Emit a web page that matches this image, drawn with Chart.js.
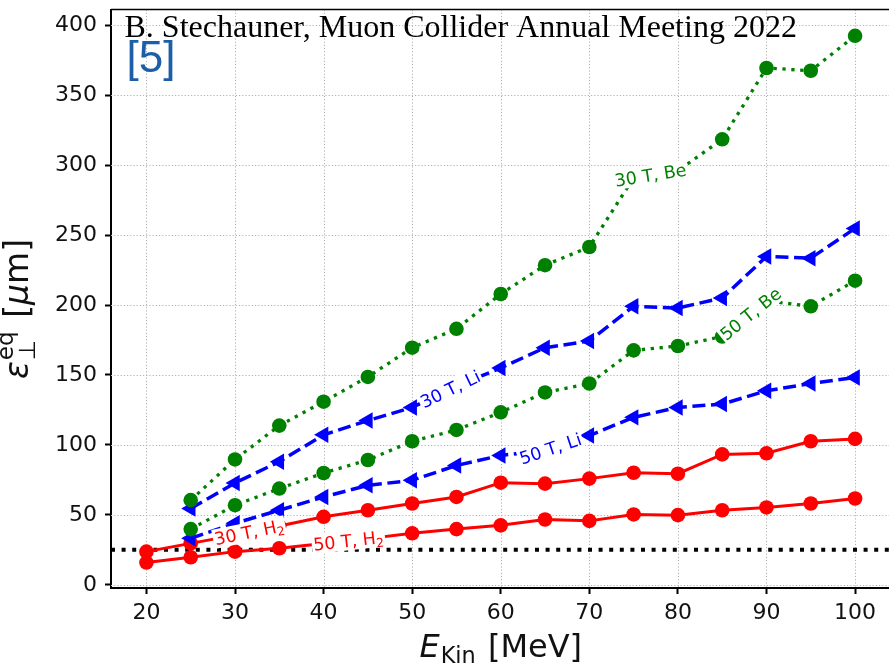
<!DOCTYPE html>
<html>
<head>
<meta charset="utf-8">
<title>Equilibrium emittance vs kinetic energy</title>
<script src="https://cdn.jsdelivr.net/npm/chart.js@4.4.1/dist/chart.umd.min.js"></script>
<style>
  html, body { margin: 0; padding: 0; background: #fff; overflow: hidden; }
  #wrap { width: 900px; height: 666px; }
</style>
</head>
<body>
<div id="wrap"><canvas id="c" width="900" height="666"></canvas></div>
<script>
// Kinetic energy grid [MeV]
const energyH2 = [20, 25, 30, 35, 40, 45, 50, 55, 60, 65, 70, 75, 80, 85, 90, 95, 100];
const energyLiBe = [25, 30, 35, 40, 45, 50, 55, 60, 65, 70, 75, 80, 85, 90, 95, 100];

// Equilibrium transverse emittance [µm]
const be30T = [60.5, 89.6, 113.8, 130.9, 148.6, 169.5, 183.0, 207.9, 228.5, 241.5, 291.0, 296.0, 318.5, 369.5, 367.5, 392.5];
const be50T = [39.8, 56.9, 68.8, 79.9, 89.2, 102.6, 110.7, 123.3, 137.5, 143.9, 167.6, 170.7, 177.5, 203.0, 199.1, 217.4];
const li30T = [54.5, 72.8, 88.0, 107.2, 117.4, 126.8, 142.0, 155.0, 169.5, 174.3, 199.1, 197.9, 205.0, 234.7, 233.5, 254.8];
const li50T = [33.2, 44.0, 53.3, 62.8, 71.1, 74.7, 85.3, 92.5, 96.0, 106.7, 119.7, 126.8, 129.2, 138.7, 143.9, 148.2];
const h2_30T = [23.7, 29.6, 35.5, 42.0, 48.6, 53.3, 58.1, 62.8, 73.0, 72.3, 75.9, 80.1, 79.4, 93.2, 94.0, 102.6, 104.3];
const h2_50T = [15.9, 19.7, 23.7, 26.1, 29.5, 33.0, 36.8, 39.8, 42.5, 46.7, 45.7, 50.3, 49.8, 53.3, 55.3, 58.1, 61.7];

// Reference emittance level [µm]
const referenceLevel = 25;

// Axis ranges and ticks
const xRange = [16, 104];
const yRange = [-2.3, 411.3];
const xTicks = [20, 30, 40, 50, 60, 70, 80, 90, 100];
const yTicks = [0, 50, 100, 150, 200, 250, 300, 350, 400];

// Inline curve labels: dataset index, energy at label centre, text runs
const curveLabels = [
  { ds: 0, at: 76.9, runs: [{ t: '30 T, Be' }] },
  { ds: 1, at: 88.2, runs: [{ t: '50 T, Be' }] },
  { ds: 2, at: 54.3, runs: [{ t: '30 T, Li' }] },
  { ds: 3, at: 65.6, runs: [{ t: '50 T, Li' }] },
  { ds: 4, at: 31.6, runs: [{ t: '30 T, H' }, { t: '2', sub: true }] },
  { ds: 5, at: 42.8, runs: [{ t: '50 T, H' }, { t: '2', sub: true }] }
];

const pairs = (xs, ys) => xs.map((x, i) => ({ x, y: ys[i] }));

const FAMILY = '"DejaVu Sans", sans-serif';

const greenStyle = {
  borderColor: 'green', backgroundColor: 'green', borderWidth: 3.3, borderDash: [3.3, 5.6],
  pointStyle: 'circle', pointRadius: 7.3, pointBorderWidth: 0
};
const blueStyle = {
  borderColor: 'blue', backgroundColor: 'blue', borderWidth: 3.5, borderDash: [13, 5.6],
  pointStyle: 'triangle', pointRotation: -90, pointRadius: 9.5, pointBorderWidth: 0
};
const redStyle = {
  borderColor: 'red', backgroundColor: 'red', borderWidth: 3,
  pointStyle: 'circle', pointRadius: 7.3, pointBorderWidth: 0
};

const datasets = [
  Object.assign({ label: '30 T, Be', data: pairs(energyLiBe, be30T) }, greenStyle),
  Object.assign({ label: '50 T, Be', data: pairs(energyLiBe, be50T) }, greenStyle),
  Object.assign({ label: '30 T, Li', data: pairs(energyLiBe, li30T) }, blueStyle),
  Object.assign({ label: '50 T, Li', data: pairs(energyLiBe, li50T) }, blueStyle),
  Object.assign({ label: '30 T, H2', data: pairs(energyH2, h2_30T) }, redStyle),
  Object.assign({ label: '50 T, H2', data: pairs(energyH2, h2_50T) }, redStyle),
  {
    label: 'reference', data: [{ x: xRange[0], y: referenceLevel }, { x: xRange[1], y: referenceLevel }],
    borderColor: '#000', borderWidth: 4, borderDash: [4, 6.6], pointRadius: 0
  }
];

// Draw a sequence of text runs on one baseline; returns total width
function measureRuns(ctx, runs, size) {
  let w = 0;
  runs.forEach(r => {
    ctx.font = r.font || ((r.sub ? size * 0.7 : size) + 'px ' + FAMILY);
    w += ctx.measureText(r.t).width + (r.gap || 0);
  });
  return w;
}
function drawRuns(ctx, runs, size, x, y) {
  runs.forEach(r => {
    ctx.font = r.font || ((r.sub ? size * 0.7 : size) + 'px ' + FAMILY);
    const dy = r.dy !== undefined ? r.dy : (r.sub ? size * 0.2 : 0);
    ctx.fillText(r.t, x, y + dy);
    x += ctx.measureText(r.t).width + (r.gap || 0);
  });
}

// Dotted grid and frame lines
const gridPlugin = {
  id: 'dottedGrid',
  beforeDatasetsDraw(chart) {
    const { ctx, chartArea: a, scales: { x, y } } = chart;
    ctx.save();
    ctx.strokeStyle = '#b3b3b3';
    ctx.lineWidth = 1;
    ctx.setLineDash([1.2, 2]);
    xTicks.forEach(v => {
      const px = Math.round(x.getPixelForValue(v)) + 0.5;
      ctx.beginPath(); ctx.moveTo(px, a.top); ctx.lineTo(px, a.bottom); ctx.stroke();
    });
    yTicks.forEach(v => {
      const py = Math.round(y.getPixelForValue(v)) + 0.5;
      ctx.beginPath(); ctx.moveTo(a.left, py); ctx.lineTo(a.right, py); ctx.stroke();
    });
    ctx.setLineDash([]);
    ctx.strokeStyle = '#000';
    ctx.lineWidth = 1.6;
    ctx.beginPath(); ctx.moveTo(a.left, a.top); ctx.lineTo(a.right, a.top); ctx.stroke();
    ctx.beginPath(); ctx.moveTo(a.right, a.top); ctx.lineTo(a.right, a.bottom); ctx.stroke();
    ctx.restore();
  }
};

// Inline labels placed on the curves with a white backing box
const curveLabelPlugin = {
  id: 'curveLabels',
  afterDatasetsDraw(chart) {
    const { ctx, scales: { x, y } } = chart;
    const size = 17.5;
    curveLabels.forEach(lab => {
      const ds = chart.data.datasets[lab.ds];
      const d = ds.data;
      let i = 0;
      while (i < d.length - 2 && d[i + 1].x < lab.at) i++;
      const p = d[i], q = d[i + 1];
      const t = (lab.at - p.x) / (q.x - p.x);
      const yv = p.y + t * (q.y - p.y);
      const px = x.getPixelForValue(lab.at), py = y.getPixelForValue(yv);
      const ang = Math.atan2(y.getPixelForValue(q.y) - y.getPixelForValue(p.y),
                             x.getPixelForValue(q.x) - x.getPixelForValue(p.x));
      ctx.save();
      ctx.translate(px, py);
      ctx.rotate(ang);
      const w = measureRuns(ctx, lab.runs, size);
      ctx.fillStyle = '#fff';
      ctx.fillRect(-w / 2 - 1.5, -0.56 * size, w + 3, 1.1 * size);
      ctx.fillStyle = ds.borderColor;
      ctx.textAlign = 'left';
      ctx.textBaseline = 'alphabetic';
      drawRuns(ctx, lab.runs, size, -w / 2, 0.35 * size);
      ctx.restore();
    });
  }
};

// Axis titles and annotation text
const annotationPlugin = {
  id: 'annotations',
  afterDraw(chart) {
    const { ctx, chartArea: a } = chart;
    ctx.save();
    ctx.textAlign = 'left';
    ctx.textBaseline = 'alphabetic';
    ctx.fillStyle = '#111';

    // x-axis title: E_Kin [MeV]
    const fx = 32;
    const xRuns = [
      { t: 'E', font: 'italic ' + fx + 'px ' + FAMILY, gap: 1 },
      { t: 'Kin', font: (fx * 0.7) + 'px ' + FAMILY, dy: fx * 0.2, gap: 2 },
      { t: ' [MeV]', font: fx + 'px ' + FAMILY }
    ];
    const xw = measureRuns(ctx, xRuns, fx);
    drawRuns(ctx, xRuns, fx, (a.left + a.right) / 2 - xw / 2, 657);

    // y-axis title: ε⊥^eq [μm], read bottom to top
    const fy = 33;
    ctx.save();
    ctx.translate(28, 309);
    ctx.rotate(-Math.PI / 2);
    const big = fy + 'px ' + FAMILY, bigIt = 'italic ' + fy + 'px ' + FAMILY, small = (fy * 0.7) + 'px ' + FAMILY;
    ctx.font = bigIt; const wEps = ctx.measureText('ε').width;
    ctx.font = small; const wPerp = ctx.measureText('⊥').width; const wEq = ctx.measureText('eq').width;
    const wScript = Math.max(wPerp, wEq) + 4;
    const tail = [{ t: ' [', font: big }, { t: 'μ', font: bigIt }, { t: 'm]', font: big }];
    const wTail = measureRuns(ctx, tail, fy);
    let cx = -(wEps + wScript + wTail) / 2;
    ctx.font = bigIt; ctx.fillText('ε', cx, 0); cx += wEps + 1;
    ctx.font = small; ctx.fillText('⊥', cx, fy * 0.22); ctx.fillText('eq', cx, -fy * 0.45);
    cx += wScript - 1;
    drawRuns(ctx, tail, fy, cx, 0);
    ctx.restore();

    // source note and reference number
    ctx.fillStyle = '#000';
    ctx.font = '32px "Liberation Serif", "Times New Roman", serif';
    ctx.fillText('B. Stechauner, Muon Collider Annual Meeting 2022', 124.5, 36.5);
    ctx.fillStyle = '#1c5ea8';
    ctx.font = '44px "Liberation Sans", Arial, sans-serif';
    ctx.fillText('[5]', 126.5, 72);
    ctx.restore();
  }
};

Chart.defaults.font.family = FAMILY;

new Chart(document.getElementById('c'), {
  type: 'line',
  data: { datasets },
  options: {
    responsive: false,
    animation: false,
    devicePixelRatio: 1,
    layout: { padding: { top: 5, right: 8, left: 0, bottom: 0 } },
    elements: { line: { tension: 0, fill: false } },
    plugins: { legend: { display: false }, tooltip: { enabled: false } },
    scales: {
      x: {
        type: 'linear', min: xRange[0], max: xRange[1],
        afterBuildTicks: s => { s.ticks = xTicks.map(v => ({ value: v })); },
        afterFit: s => { s.height = 78; s.paddingLeft = 0; s.paddingRight = 0; },
        grid: { drawOnChartArea: false, drawTicks: true, tickLength: 6, tickWidth: 2, tickColor: '#000' },
        border: { display: true, color: '#000', width: 2 },
        ticks: { color: '#111', font: { size: 22 }, padding: 6, maxRotation: 0, autoSkip: false }
      },
      y: {
        type: 'linear', min: yRange[0], max: yRange[1],
        afterBuildTicks: s => { s.ticks = yTicks.map(v => ({ value: v })); },
        afterFit: s => { s.width = 111; s.paddingTop = 0; s.paddingBottom = 0; },
        grid: { drawOnChartArea: false, drawTicks: true, tickLength: 6, tickWidth: 2, tickColor: '#000' },
        border: { display: true, color: '#000', width: 2 },
        ticks: { color: '#111', font: { size: 22 }, padding: 8, autoSkip: false }
      }
    }
  },
  plugins: [gridPlugin, curveLabelPlugin, annotationPlugin]
});
</script>
</body>
</html>
